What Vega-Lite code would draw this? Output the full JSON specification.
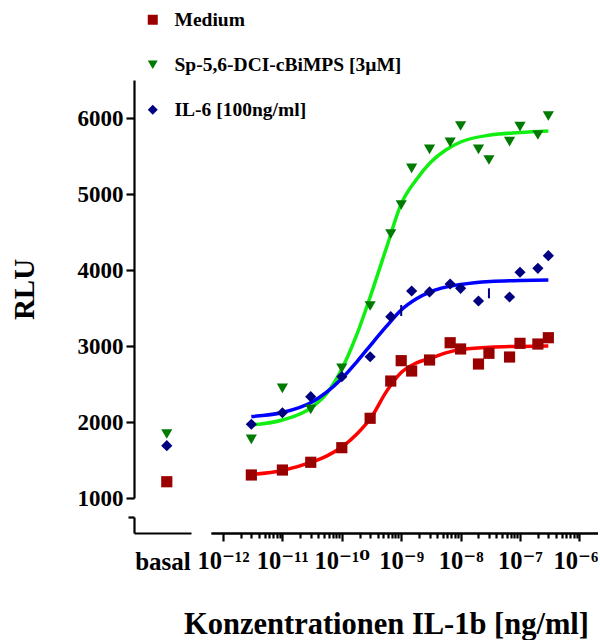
{
  "$schema": "https://vega.github.io/schema/vega-lite/v6.json",
  "background": "white",
  "padding": {"left": 10, "top": 10, "right": 0, "bottom": 0},
  "config": {
    "font": "Liberation Serif",
    "view": {"stroke": null},
    "axis": {
      "labelFont": "Liberation Serif, DejaVu Serif", "labelFontWeight": "bold", "labelColor": "black",
      "titleFont": "Liberation Serif", "titleFontWeight": "bold", "titleColor": "black",
      "domainColor": "black", "tickColor": "black", "domainWidth": 2.2, "tickWidth": 2.2,
      "grid": false, "labelFlush": false, "labelOverlap": false
    },
    "legend": {
      "labelFont": "Liberation Serif", "labelFontWeight": "bold", "labelFontSize": 19.5, "labelColor": "black",
      "labelLimit": 500,
      "symbolSize": 100, "rowPadding": 24, "labelOffset": 12, "symbolStrokeWidth": 0, "padding": 0
    }
  },
  "datasets": {
    "basal": [
      {"series": "Medium", "group": "basal", "rlu": 1214},
      {"series": "Sp-5,6-DCI-cBiMPS [3µM]", "group": "basal", "rlu": 1842},
      {"series": "IL-6 [100ng/ml]", "group": "basal", "rlu": 1688}
    ],
    "points": [
      {"series": "Medium", "conc": 3e-12, "rlu": 1303},
      {"series": "Medium", "conc": 1e-11, "rlu": 1368},
      {"series": "Medium", "conc": 3e-11, "rlu": 1470},
      {"series": "Medium", "conc": 1e-10, "rlu": 1662},
      {"series": "Medium", "conc": 3e-10, "rlu": 2049},
      {"series": "Medium", "conc": 6.67e-10, "rlu": 2539},
      {"series": "Medium", "conc": 1e-9, "rlu": 2807},
      {"series": "Medium", "conc": 1.5e-9, "rlu": 2671},
      {"series": "Medium", "conc": 3e-9, "rlu": 2816},
      {"series": "Medium", "conc": 6.67e-9, "rlu": 3043},
      {"series": "Medium", "conc": 1e-8, "rlu": 2961},
      {"series": "Medium", "conc": 2e-8, "rlu": 2763},
      {"series": "Medium", "conc": 3e-8, "rlu": 2904},
      {"series": "Medium", "conc": 6.67e-8, "rlu": 2855},
      {"series": "Medium", "conc": 1e-7, "rlu": 3035},
      {"series": "Medium", "conc": 2e-7, "rlu": 3026},
      {"series": "Medium", "conc": 3e-7, "rlu": 3109},
      {"series": "Sp-5,6-DCI-cBiMPS [3µM]", "conc": 3e-12, "rlu": 1772},
      {"series": "Sp-5,6-DCI-cBiMPS [3µM]", "conc": 1e-11, "rlu": 2443},
      {"series": "Sp-5,6-DCI-cBiMPS [3µM]", "conc": 3e-11, "rlu": 2167},
      {"series": "Sp-5,6-DCI-cBiMPS [3µM]", "conc": 1e-10, "rlu": 2707},
      {"series": "Sp-5,6-DCI-cBiMPS [3µM]", "conc": 3e-10, "rlu": 3526},
      {"series": "Sp-5,6-DCI-cBiMPS [3µM]", "conc": 6.67e-10, "rlu": 4474},
      {"series": "Sp-5,6-DCI-cBiMPS [3µM]", "conc": 1e-9, "rlu": 4855},
      {"series": "Sp-5,6-DCI-cBiMPS [3µM]", "conc": 1.5e-9, "rlu": 5338},
      {"series": "Sp-5,6-DCI-cBiMPS [3µM]", "conc": 3e-9, "rlu": 5588},
      {"series": "Sp-5,6-DCI-cBiMPS [3µM]", "conc": 6.67e-9, "rlu": 5680},
      {"series": "Sp-5,6-DCI-cBiMPS [3µM]", "conc": 1e-8, "rlu": 5895},
      {"series": "Sp-5,6-DCI-cBiMPS [3µM]", "conc": 2e-8, "rlu": 5588},
      {"series": "Sp-5,6-DCI-cBiMPS [3µM]", "conc": 3e-8, "rlu": 5447},
      {"series": "Sp-5,6-DCI-cBiMPS [3µM]", "conc": 6.67e-8, "rlu": 5688},
      {"series": "Sp-5,6-DCI-cBiMPS [3µM]", "conc": 1e-7, "rlu": 5886},
      {"series": "Sp-5,6-DCI-cBiMPS [3µM]", "conc": 2e-7, "rlu": 5776},
      {"series": "Sp-5,6-DCI-cBiMPS [3µM]", "conc": 3e-7, "rlu": 6026},
      {"series": "IL-6 [100ng/ml]", "conc": 3e-12, "rlu": 1970},
      {"series": "IL-6 [100ng/ml]", "conc": 1e-11, "rlu": 2122},
      {"series": "IL-6 [100ng/ml]", "conc": 3e-11, "rlu": 2333},
      {"series": "IL-6 [100ng/ml]", "conc": 1e-10, "rlu": 2596},
      {"series": "IL-6 [100ng/ml]", "conc": 3e-10, "rlu": 2859},
      {"series": "IL-6 [100ng/ml]", "conc": 6.67e-10, "rlu": 3386},
      {"series": "IL-6 [100ng/ml]", "conc": 1.5e-9, "rlu": 3724},
      {"series": "IL-6 [100ng/ml]", "conc": 3e-9, "rlu": 3711},
      {"series": "IL-6 [100ng/ml]", "conc": 6.67e-9, "rlu": 3816},
      {"series": "IL-6 [100ng/ml]", "conc": 1e-8, "rlu": 3759},
      {"series": "IL-6 [100ng/ml]", "conc": 2e-8, "rlu": 3592},
      {"series": "IL-6 [100ng/ml]", "conc": 6.67e-8, "rlu": 3645},
      {"series": "IL-6 [100ng/ml]", "conc": 1e-7, "rlu": 3970},
      {"series": "IL-6 [100ng/ml]", "conc": 2e-7, "rlu": 4022},
      {"series": "IL-6 [100ng/ml]", "conc": 3e-7, "rlu": 4188}
    ],
    "errs": [
      {"series": "IL-6 [100ng/ml]", "conc": 1e-9, "lo": 3395, "hi": 3540},
      {"series": "IL-6 [100ng/ml]", "conc": 3e-8, "lo": 3628, "hi": 3759}
    ],
    "curves": [
      {"series": "Medium", "conc": 3e-12, "rlu": 1309},
      {"series": "Medium", "conc": 1e-11, "rlu": 1362},
      {"series": "Medium", "conc": 3.162e-11, "rlu": 1474},
      {"series": "Medium", "conc": 5.623e-11, "rlu": 1555},
      {"series": "Medium", "conc": 1e-10, "rlu": 1671},
      {"series": "Medium", "conc": 1.778e-10, "rlu": 1840},
      {"series": "Medium", "conc": 3.162e-10, "rlu": 2066},
      {"series": "Medium", "conc": 5.623e-10, "rlu": 2400},
      {"series": "Medium", "conc": 1e-9, "rlu": 2650},
      {"series": "Medium", "conc": 1.778e-9, "rlu": 2775},
      {"series": "Medium", "conc": 3.162e-9, "rlu": 2840},
      {"series": "Medium", "conc": 5.623e-9, "rlu": 2910},
      {"series": "Medium", "conc": 1e-8, "rlu": 2955},
      {"series": "Medium", "conc": 3.162e-8, "rlu": 2985},
      {"series": "Medium", "conc": 1e-7, "rlu": 2995},
      {"series": "Medium", "conc": 3e-7, "rlu": 3000},
      {"series": "Sp-5,6-DCI-cBiMPS [3µM]", "conc": 3e-12, "rlu": 1961},
      {"series": "Sp-5,6-DCI-cBiMPS [3µM]", "conc": 1e-11, "rlu": 2026},
      {"series": "Sp-5,6-DCI-cBiMPS [3µM]", "conc": 3.162e-11, "rlu": 2197},
      {"series": "Sp-5,6-DCI-cBiMPS [3µM]", "conc": 5.623e-11, "rlu": 2380},
      {"series": "Sp-5,6-DCI-cBiMPS [3µM]", "conc": 1e-10, "rlu": 2697},
      {"series": "Sp-5,6-DCI-cBiMPS [3µM]", "conc": 1.778e-10, "rlu": 3145},
      {"series": "Sp-5,6-DCI-cBiMPS [3µM]", "conc": 3.162e-10, "rlu": 3697},
      {"series": "Sp-5,6-DCI-cBiMPS [3µM]", "conc": 5.623e-10, "rlu": 4289},
      {"series": "Sp-5,6-DCI-cBiMPS [3µM]", "conc": 1e-9, "rlu": 4870},
      {"series": "Sp-5,6-DCI-cBiMPS [3µM]", "conc": 1.778e-9, "rlu": 5184},
      {"series": "Sp-5,6-DCI-cBiMPS [3µM]", "conc": 3.162e-9, "rlu": 5421},
      {"series": "Sp-5,6-DCI-cBiMPS [3µM]", "conc": 5.623e-9, "rlu": 5579},
      {"series": "Sp-5,6-DCI-cBiMPS [3µM]", "conc": 1e-8, "rlu": 5684},
      {"series": "Sp-5,6-DCI-cBiMPS [3µM]", "conc": 3.162e-8, "rlu": 5776},
      {"series": "Sp-5,6-DCI-cBiMPS [3µM]", "conc": 1e-7, "rlu": 5809},
      {"series": "Sp-5,6-DCI-cBiMPS [3µM]", "conc": 3e-7, "rlu": 5829},
      {"series": "IL-6 [100ng/ml]", "conc": 3e-12, "rlu": 2072},
      {"series": "IL-6 [100ng/ml]", "conc": 1e-11, "rlu": 2125},
      {"series": "IL-6 [100ng/ml]", "conc": 3.162e-11, "rlu": 2263},
      {"series": "IL-6 [100ng/ml]", "conc": 5.623e-11, "rlu": 2395},
      {"series": "IL-6 [100ng/ml]", "conc": 1e-10, "rlu": 2572},
      {"series": "IL-6 [100ng/ml]", "conc": 1.778e-10, "rlu": 2789},
      {"series": "IL-6 [100ng/ml]", "conc": 3.162e-10, "rlu": 3026},
      {"series": "IL-6 [100ng/ml]", "conc": 5.623e-10, "rlu": 3257},
      {"series": "IL-6 [100ng/ml]", "conc": 1e-9, "rlu": 3474},
      {"series": "IL-6 [100ng/ml]", "conc": 1.778e-9, "rlu": 3618},
      {"series": "IL-6 [100ng/ml]", "conc": 3.162e-9, "rlu": 3717},
      {"series": "IL-6 [100ng/ml]", "conc": 5.623e-9, "rlu": 3775},
      {"series": "IL-6 [100ng/ml]", "conc": 1e-8, "rlu": 3809},
      {"series": "IL-6 [100ng/ml]", "conc": 3.162e-8, "rlu": 3849},
      {"series": "IL-6 [100ng/ml]", "conc": 1e-7, "rlu": 3862},
      {"series": "IL-6 [100ng/ml]", "conc": 3e-7, "rlu": 3868}
    ]
  },
  "concat": [
    {
      "width": 57, "height": 418,
      "data": {"name": "basal"},
      "mark": {"type": "point", "filled": true, "size": 125, "opacity": 1},
      "encoding": {
        "x": {"field": "group", "type": "nominal", "bandPosition": 0.575,
              "scale": {"type": "band", "paddingInner": 0, "paddingOuter": 0}, "axis": null},
        "y": {"field": "rlu", "type": "quantitative", "scale": {"domain": [1000, 6500], "nice": false, "zero": false},
              "axis": {"values": [1000, 2000, 3000, 4000, 5000, 6000], "format": "d", "title": "RLU",
                       "tickSize": 8, "labelPadding": 3, "labelFontSize": 23, "titleFontSize": 29, "titlePadding": 38}},
        "color": {"field": "series", "type": "nominal", "title": null,
                  "scale": {"domain": ["Medium", "Sp-5,6-DCI-cBiMPS [3µM]", "IL-6 [100ng/ml]"], "range": ["#990000", "#007a00", "#000080"]},
                  "legend": {"orient": "none", "legendX": 9, "legendY": -70}},
        "shape": {"field": "series", "type": "nominal", "title": null,
                  "scale": {"domain": ["Medium", "Sp-5,6-DCI-cBiMPS [3µM]", "IL-6 [100ng/ml]"], "range": ["square", "triangle-down", "diamond"]},
                  "legend": {"orient": "none", "legendX": 9, "legendY": -70}}
      }
    },
    {
      "width": 387, "height": 418,
      "layer": [
        {
          "data": {"name": "curves"},
          "mark": {"type": "line", "strokeWidth": 3.5, "interpolate": "monotone"},
          "encoding": {
            "x": {"field": "conc", "type": "quantitative",
                  "scale": {"type": "log", "domain": [6.28e-13, 2.056e-6], "nice": false}, "axis": null},
            "y": {"field": "rlu", "type": "quantitative", "scale": {"domain": [1000, 6500], "nice": false, "zero": false}, "axis": null},
            "stroke": {"field": "series", "type": "nominal", "legend": null,
                       "scale": {"domain": ["Medium", "Sp-5,6-DCI-cBiMPS [3µM]", "IL-6 [100ng/ml]"], "range": ["#ff0000", "#11ee11", "#0000ff"]}}
          }
        },
        {
          "data": {"name": "errs"},
          "mark": {"type": "rule", "strokeWidth": 2, "color": "#000080"},
          "encoding": {
            "x": {"field": "conc", "type": "quantitative"},
            "y": {"field": "lo", "type": "quantitative"},
            "y2": {"field": "hi"}
          }
        },
        {
          "data": {"name": "points"},
          "mark": {"type": "point", "filled": true, "size": 125, "opacity": 1},
          "encoding": {
            "x": {"field": "conc", "type": "quantitative"},
            "y": {"field": "rlu", "type": "quantitative"},
            "color": {"field": "series", "type": "nominal", "title": null,
                      "scale": {"domain": ["Medium", "Sp-5,6-DCI-cBiMPS [3µM]", "IL-6 [100ng/ml]"], "range": ["#990000", "#007a00", "#000080"]},
                      "legend": {"orient": "none", "legendX": 9, "legendY": -70}},
            "shape": {"field": "series", "type": "nominal", "title": null,
                      "scale": {"domain": ["Medium", "Sp-5,6-DCI-cBiMPS [3µM]", "IL-6 [100ng/ml]"], "range": ["square", "triangle-down", "diamond"]},
                      "legend": {"orient": "none", "legendX": 9, "legendY": -70}}
          }
        }
      ]
    },
    {
      "width": 57, "height": 16,
      "data": {"name": "basal"},
      "mark": {"type": "point", "opacity": 0, "clip": true},
      "encoding": {
        "x": {"field": "group", "type": "nominal", "scale": {"type": "point", "padding": 0.5},
              "axis": {"title": null, "ticks": false, "labelAngle": 0, "labelFontSize": 25, "labelPadding": 16}},
        "y": {"field": "rlu", "type": "quantitative", "scale": {"domain": [539.5, 750], "nice": false, "zero": false},
              "axis": {"title": null, "labels": false, "values": [750], "tickSize": 6}}
      }
    },
    {
      "width": 387, "height": 16,
      "data": {"name": "points"},
      "layer": [
        {
          "mark": {"type": "point", "opacity": 0, "clip": true},
          "encoding": {
            "x": {"field": "conc", "type": "quantitative",
                  "scale": {"type": "log", "domain": [6.28e-13, 2.056e-6], "nice": false},
                  "axis": {"orient": "bottom", "values": [1e-12, 1e-11, 1e-10, 1e-9, 1e-8, 1e-7, 1e-6], "tickSize": 8,
                           "labelFontSize": 24.5, "labelPadding": 8,
                           "labelOffset": {"condition": {"test": "datum.value > 5e-7", "value": -4}, "value": 0},
                           "labelExpr": "datum.value < 3e-12 ? '10⁻¹²' : datum.value < 3e-11 ? '10⁻¹¹' : datum.value < 3e-10 ? '10⁻¹⁰' : datum.value < 3e-9 ? '10⁻⁹' : datum.value < 3e-8 ? '10⁻⁸' : datum.value < 3e-7 ? '10⁻⁷' : '10⁻⁶'",
                           "title": "Konzentrationen IL-1b [ng/ml]", "titleFontSize": 30.5, "titleX": 175, "titleY": 100, "titleBaseline": "alphabetic"}},
            "y": {"field": "rlu", "type": "quantitative", "scale": {"domain": [539.5, 750], "nice": false, "zero": false}, "axis": null}
          }
        },
        {
          "mark": {"type": "point", "opacity": 0, "clip": true},
          "encoding": {
            "x": {"field": "conc", "type": "quantitative",
                  "axis": {"orient": "bottom", "labels": false, "title": null, "tickSize": 5,
                           "values": [2e-12, 3e-12, 4e-12, 5e-12, 6e-12, 7e-12, 8e-12, 9e-12,
                                      2e-11, 3e-11, 4e-11, 5e-11, 6e-11, 7e-11, 8e-11, 9e-11,
                                      2e-10, 3e-10, 4e-10, 5e-10, 6e-10, 7e-10, 8e-10, 9e-10,
                                      2e-9, 3e-9, 4e-9, 5e-9, 6e-9, 7e-9, 8e-9, 9e-9,
                                      2e-8, 3e-8, 4e-8, 5e-8, 6e-8, 7e-8, 8e-8, 9e-8,
                                      2e-7, 3e-7, 4e-7, 5e-7, 6e-7, 7e-7, 8e-7, 9e-7]}},
            "y": {"field": "rlu", "type": "quantitative", "axis": null}
          }
        }
      ],
      "resolve": {"axis": {"x": "independent"}}
    }
  ],
  "columns": 2,
  "spacing": {"row": 19, "column": 20},
  "bounds": "flush",
  "resolve": {"scale": {"x": "independent", "y": "independent", "color": "shared", "shape": "shared"}}
}
